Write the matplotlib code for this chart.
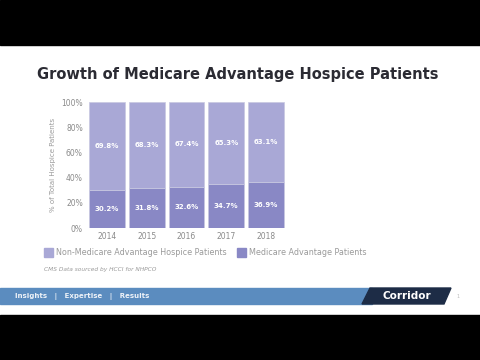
import matplotlib
matplotlib.use("Agg")
import matplotlib.pyplot as plt
from matplotlib.patches import Rectangle, Polygon

years = ["2014", "2015", "2016", "2017", "2018"]
medicare_adv = [30.2, 31.8, 32.6, 34.7, 36.9]
non_medicare_adv = [69.8, 68.3, 67.4, 65.3, 63.1]
yticks = [0, 20, 40, 60, 80, 100]
series_names = ["Non-Medicare Advantage Hospice Patients", "Medicare Advantage Patients"]

W, H = 480, 360
fig = plt.figure(figsize=(4.8, 3.6), dpi=100)
fig.patch.set_facecolor("white")

def fx(x): return x / W
def fy(y): return 1 - y / H

# black letterbox bars
fig.patches.append(Rectangle((0, fy(45)), 1, 45 / H, transform=fig.transFigure, color="black", zorder=0))
fig.patches.append(Rectangle((0, 0), 1, 45 / H, transform=fig.transFigure, color="black", zorder=0))

# title
fig.text(fx(238), fy(74), "Growth of Medicare Advantage Hospice Patients", ha="center", va="center",
         fontsize=10.5, fontweight="bold", color="#2b2b33", family="DejaVu Sans")

light = "#a9a8d6"
dark = "#8988c5"

ax = fig.add_axes([fx(87), fy(228), fx(286) - fx(87), (228 - 102) / H])
x = range(len(years))
ax.bar(x, medicare_adv, width=0.9, color=dark, edgecolor="#c8c8e0", linewidth=0.5)
ax.bar(x, non_medicare_adv, bottom=medicare_adv, width=0.9, color=light, edgecolor="#c8c8e0", linewidth=0.5)
for i in x:
    ax.text(i, medicare_adv[i] / 2, f"{medicare_adv[i]:.1f}%", ha="center", va="center",
            color="white", fontsize=5, fontweight="bold")
    ax.text(i, medicare_adv[i] + non_medicare_adv[i] / 2, f"{non_medicare_adv[i]:.1f}%", ha="center",
            va="center", color="white", fontsize=5, fontweight="bold")
ax.set_xlim(-0.5, len(years) - 0.5)
ax.set_ylim(0, 100)
ax.set_yticks(yticks)
ax.set_yticklabels([f"{t}%" for t in yticks], fontsize=5.5, color="#8a8a8a")
ax.set_xticks(list(x))
ax.set_xticklabels(years, fontsize=5.5, color="#8a8a8a")
ax.tick_params(length=0, pad=3)
for s in ax.spines.values():
    s.set_visible(False)
ax.set_ylabel("% of Total Hospice Patients", fontsize=5, color="#9a9a9a", labelpad=4)

# legend
fig.patches.append(Rectangle((fx(44), fy(257)), 9 / W, 9 / H, transform=fig.transFigure, color=light))
fig.text(fx(56), fy(252.5), series_names[0], fontsize=5.8, color="#9a9a9a", va="center")
fig.patches.append(Rectangle((fx(237), fy(257)), 9 / W, 9 / H, transform=fig.transFigure, color=dark))
fig.text(fx(249), fy(252.5), series_names[1], fontsize=5.8, color="#9a9a9a", va="center")
fig.text(fx(44), fy(269), "CMS Data sourced by HCCI for NHPCO", fontsize=4.2, color="#9a9a9a",
         style="italic", va="center")

# footer
fig.patches.append(Rectangle((0, fy(304)), fx(372), 16 / H, transform=fig.transFigure, color="#5b8cbf"))
fig.patches.append(Polygon([(fx(362), fy(304)), (fx(370), fy(288)), (fx(451), fy(288)), (fx(444), fy(304))],
                           closed=True, transform=fig.transFigure, color="#1d2c46"))
fig.text(fx(15), fy(296), "Insights   |   Expertise   |   Results", fontsize=5, color="#eef2f8",
         fontweight="bold", va="center")
fig.text(fx(407), fy(296), "Corridor", fontsize=7.5, color="white", fontweight="bold", ha="center", va="center")
fig.text(fx(458), fy(297), "1", fontsize=3.5, color="#bbbbbb", ha="center", va="center")

fig.savefig("out.png", dpi=100)
